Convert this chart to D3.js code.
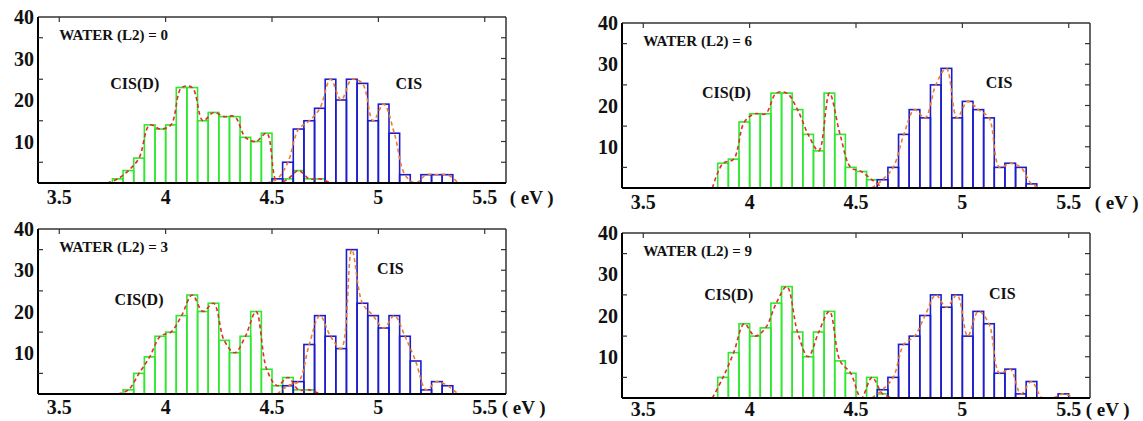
<!DOCTYPE html>
<html>
<head>
<meta charset="utf-8">
<script src="https://d3js.org/d3.v7.min.js"></script>
<style>
    body { margin: 0; background: #fff; }
    text { font-family: "Liberation Serif", "Tinos", "Times New Roman", Times, "Noto Serif", "DejaVu Serif", "FreeSerif", serif; }
</style>
</head>
<body>
<svg id="chart" width="1143" height="421"></svg>
<script>
// histogram data, bins of 0.05 eV
const binWidth = 0.05;
const waterLevels = ["0", "3", "6", "9"];

// CIS(D) (green) - first bin start and counts per panel
const cisdStart = [3.75, 3.80, 3.85, 3.85];
const cisdCounts = [
    [1, 3, 6, 14, 13, 14, 23, 23, 15, 17, 16, 16, 11, 10, 12, 0, 1, 3, 1, 1],
    [1, 5, 9, 14, 15, 19, 24, 20, 22, 13, 10, 14, 20, 6, 2, 4, 1, 1],
    [6, 7, 16, 18, 18, 23, 23, 19, 13, 9, 23, 13, 5, 4, 2],
    [5, 11, 18, 15, 17, 23, 27, 16, 10, 16, 21, 9, 6, 0, 5, 1]
];

// CIS (blue)
const cisStart = [4.50, 4.55, 4.60, 4.60];
const cisCounts = [
    [1, 5, 13, 15, 18, 25, 20, 25, 24, 15, 19, 12, 2, 0, 2, 2, 2],
    [2, 3, 12, 19, 14, 11, 35, 22, 19, 16, 19, 14, 8, 1, 3, 2],
    [2, 5, 13, 19, 17, 25, 29, 17, 21, 19, 17, 5, 6, 5, 1],
    [2, 5, 13, 15, 20, 25, 22, 25, 15, 21, 18, 6, 7, 1, 4, 0, 0, 1]
];

const xTicks = [3.5, 4, 4.5, 5, 5.5];
const yTicks = [10, 20, 30, 40];
const yMinorTicks = [5, 15, 25, 35];

// layout of the four panels (plot frames)
const panels = [
    { left: 38,  top: 17,  width: 468, height: 166, labelDy: 21 },
    { left: 38,  top: 229, width: 468, height: 165, labelDy: 20 },
    { left: 622, top: 23,  width: 468, height: 165, labelDy: 21 },
    { left: 622, top: 233, width: 468, height: 165, labelDy: 18 }
];
// label anchors in data units [eV, count]
const cisdLabelPos = [[3.74, 24], [3.76, 22.8], [3.776, 23.2], [3.787, 25]];
const cisLabelPos = [[5.08, 24], [4.994, 30.5], [5.11, 25.5], [5.125, 25.3]];
const evOffset = [25, 17, 26, 17];

const colors = {
    cisd: "#2fe82f",
    cis: "#1c1ccc",
    cisdCurve: "#e62a2a",
    cisCurve: "#f07a2e"
};

const svg = d3.select("#chart").attr("font-weight", "bold");

panels.forEach((p, k) => {
    const g = svg.append("g").attr("transform", `translate(${p.left},${p.top})`);
    const x = d3.scaleLinear().domain([3.4, 5.6]).range([0, p.width]);
    const y = d3.scaleLinear().domain([0, 40]).range([p.height, 0]);

    g.append("clipPath").attr("id", "clip" + k)
        .append("rect").attr("width", p.width).attr("height", p.height);

    const plot = g.append("g").attr("clip-path", `url(#clip${k})`);

    function drawBars(start, counts, color) {
        const bins = counts.map((c, i) => ({ x0: start + i * binWidth, x1: start + (i + 1) * binWidth, c }))
            .filter(d => d.c > 0);
        plot.append("g").selectAll("rect")
            .data(bins)
            .join("rect")
            .attr("x", d => x(d.x0))
            .attr("width", d => x(d.x1) - x(d.x0))
            .attr("y", d => y(d.c))
            .attr("height", d => y(0) - y(d.c))
            .attr("fill", "none")
            .attr("stroke", color)
            .attr("stroke-width", 1.6);
    }

    function drawCurve(start, counts, color) {
        const pts = counts.map((c, i) => [start + (i + 0.5) * binWidth, c]);
        pts.unshift([pts[0][0] - binWidth, 0]);
        pts.push([pts[pts.length - 1][0] + binWidth, 0]);
        const line = d3.line()
            .x(d => x(d[0]))
            .y(d => y(Math.max(0, d[1])))
            .curve(d3.curveCatmullRom.alpha(0.5));
        plot.append("path")
            .datum(pts)
            .attr("d", line)
            .attr("fill", "none")
            .attr("stroke", color)
            .attr("stroke-width", 1.6)
            .attr("stroke-dasharray", "4,3");
    }

    drawBars(cisdStart[k], cisdCounts[k], colors.cisd);
    drawBars(cisStart[k], cisCounts[k], colors.cis);
    drawCurve(cisdStart[k], cisdCounts[k], colors.cisdCurve);
    drawCurve(cisStart[k], cisCounts[k], colors.cisCurve);

    // frame
    g.append("line").attr("x1", 0).attr("x2", p.width).attr("y1", 0).attr("y2", 0)
        .attr("stroke", "#333").attr("stroke-width", 1.5);
    g.append("line").attr("x1", p.width).attr("x2", p.width).attr("y1", 0).attr("y2", p.height)
        .attr("stroke", "#333").attr("stroke-width", 1.5);
    g.append("line").attr("x1", 0).attr("x2", 0).attr("y1", 0).attr("y2", p.height)
        .attr("stroke", "#000").attr("stroke-width", 2);
    g.append("line").attr("x1", 0).attr("x2", p.width).attr("y1", p.height).attr("y2", p.height)
        .attr("stroke", "#000").attr("stroke-width", 2);

    // inner ticks
    g.selectAll(".tt").data(xTicks).join("line")
        .attr("x1", d => x(d)).attr("x2", d => x(d)).attr("y1", 0).attr("y2", 5)
        .attr("stroke", "#333").attr("stroke-width", 1.2);
    g.selectAll(".lt").data(yMinorTicks).join("line")
        .attr("x1", 0).attr("x2", 5).attr("y1", d => y(d)).attr("y2", d => y(d))
        .attr("stroke", "#333").attr("stroke-width", 1.2);
    g.selectAll(".rt").data(yMinorTicks.concat([10, 20, 30])).join("line")
        .attr("x1", p.width - 5).attr("x2", p.width).attr("y1", d => y(d)).attr("y2", d => y(d))
        .attr("stroke", "#333").attr("stroke-width", 1.2);

    // tick labels
    g.selectAll(".yl").data(yTicks).join("text")
        .attr("x", -4).attr("y", d => y(d) + 7)
        .attr("text-anchor", "end")
        .attr("font-size", 20)
        .attr("fill", "#111")
        .text(d => d);
    g.selectAll(".xl").data(xTicks).join("text")
        .attr("x", d => x(d)).attr("y", p.height + p.labelDy)
        .attr("text-anchor", "middle")
        .attr("font-size", 20)
        .attr("fill", "#111")
        .text(d => d);
    g.append("text")
        .attr("x", x(5.5) + evOffset[k]).attr("y", p.height + p.labelDy)
        .attr("font-size", 19)
        .attr("fill", "#111")
        .attr("xml:space", "preserve")
        .text("( eV )");

    // annotations
    g.append("text")
        .attr("x", x(3.5)).attr("y", y(35.6) + 5)
        .attr("font-size", 15)
        .attr("fill", "#111")
        .text(`WATER (L2) = ${waterLevels[k]}`);
    g.append("text")
        .attr("x", x(cisdLabelPos[k][0])).attr("y", y(cisdLabelPos[k][1]) + 5.5)
        .attr("font-size", 16)
        .attr("fill", "#111")
        .text("CIS(D)");
    g.append("text")
        .attr("x", x(cisLabelPos[k][0])).attr("y", y(cisLabelPos[k][1]) + 5.5)
        .attr("font-size", 16)
        .attr("fill", "#111")
        .text("CIS");
});
</script>
</body>
</html>
